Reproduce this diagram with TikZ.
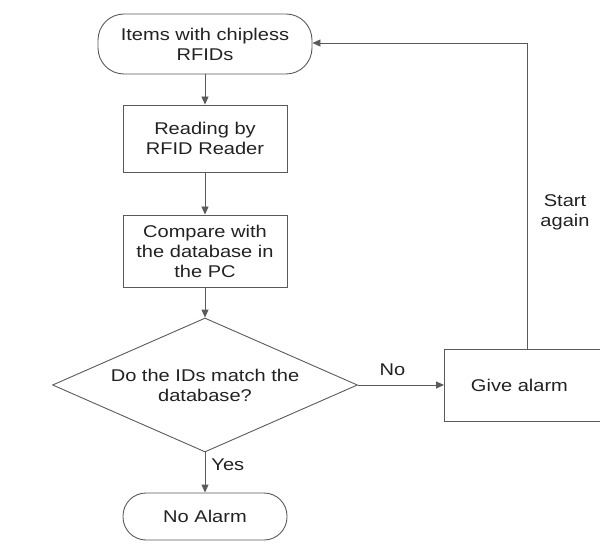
\documentclass[tikz,border=0pt]{standalone}
\usepackage{fontspec}
\setmainfont{Liberation Sans}[FakeStretch=1.18]
\usetikzlibrary{arrows.meta,shapes.geometric}
\definecolor{lc}{HTML}{5A5A5A}
\definecolor{tc}{HTML}{222222}
\begin{document}
\begin{tikzpicture}[x=1pt,y=-1pt,
  every node/.style={font=\fontsize{17}{20}\selectfont,text=tc,align=center,inner sep=0pt},
  term/.style={draw=lc,line width=0.9pt,rounded corners=26pt,minimum width=#1},
  procbox/.style={draw=lc,line width=0.9pt,rectangle},
  decis/.style={draw=lc,line width=0.9pt,diamond,shape aspect=2.28,minimum width=305pt,minimum height=134pt},
  flow/.style={draw=lc,line width=0.9pt,-{Triangle[length=8pt,width=7pt]}},
  lbl/.style={font=\fontsize{17}{20}\selectfont}]
\useasboundingbox (0,0) rectangle (600,548);
\node[term=214pt,minimum height=60pt] (start) at (205,44) {Items with chipless\\RFIDs};
\node[procbox,minimum width=164pt,minimum height=67pt] (read) at (205,138.5) {Reading by\\RFID Reader};
\node[procbox,minimum width=164pt,minimum height=72pt] (comp) at (205,251) {Compare with\\the database in\\the PC};
\node[decis] (dec) at (205,385) {Do the IDs match the\\database?};
\node[procbox,minimum width=158pt,minimum height=72pt,anchor=west] (alarm) at (444,385) {\hspace*{-4pt}Give alarm\hspace*{4pt}};
\node[term=164pt,minimum height=47pt,rounded corners=23pt] (noal) at (205,516.5) {No Alarm};
\coordinate (corner) at (527,43);
\coordinate (up) at (527,349);
\draw[flow] (start) -- (read);
\draw[flow] (read) -- (comp);
\draw[flow] (comp) -- (dec);
\draw[flow] (dec.east) -- node[lbl,above=9pt,pos=0.4] {No} (alarm.west);
\draw[flow] (dec.south) -- node[lbl,right=6pt,pos=0.3] {Yes} (noal.north);
\draw[flow] (up) -- (corner) -- (start.east |- corner);
\node[lbl] (again) at (565,212) {Start\\again};
\end{tikzpicture}
\end{document}
